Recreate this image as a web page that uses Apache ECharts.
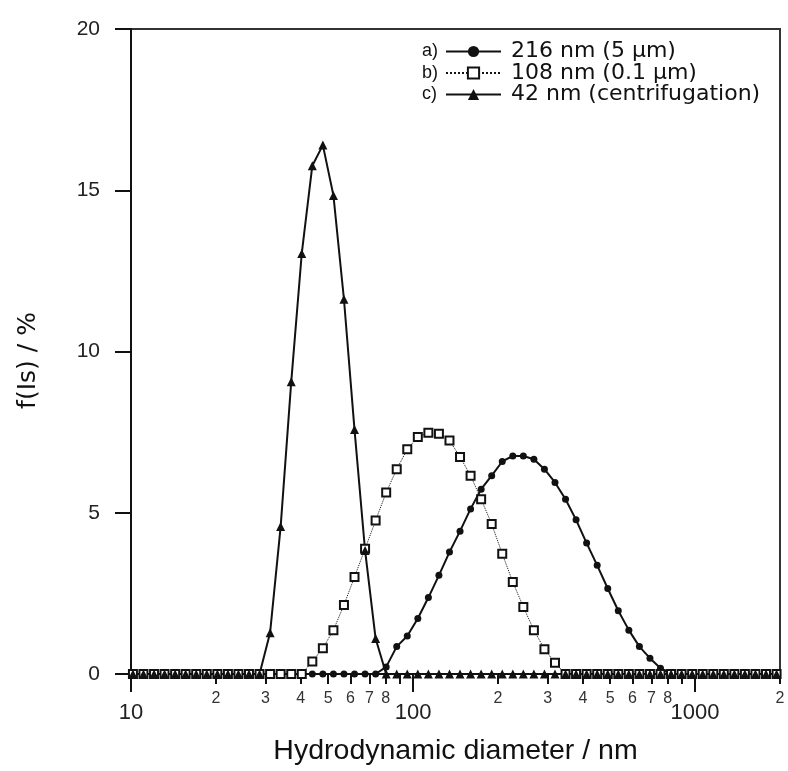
<!DOCTYPE html>
<html>
<head>
<meta charset="utf-8">
<script src="https://cdn.jsdelivr.net/npm/echarts@6/dist/echarts.min.js"></script>
<style>
  html, body { margin: 0; padding: 0; background: #fff; }
  #main { width: 788px; height: 771px; }
</style>
</head>
<body>
<div id="main"></div>
<script>
// hydrodynamic diameter of each size class (nm)
var sizes = [10.16, 11.07, 12.07, 13.15, 14.34, 15.62, 17.03, 18.56, 20.24, 22.06, 24.04, 26.20,
  28.56, 31.13, 33.93, 36.99, 40.31, 43.94, 47.89, 52.20, 56.89, 62.01, 67.59, 73.67, 80.30,
  87.52, 95.39, 103.97, 113.33, 123.52, 134.64, 146.75, 159.95, 174.34, 190.02, 207.11, 225.75,
  246.04, 268.19, 292.31, 318.61, 347.27, 378.44, 412.48, 449.67, 490.11, 534.19, 582.25, 634.62,
  691.70, 753.93, 821.75, 895.67, 976.32, 1064.1, 1159.8, 1264.1, 1377.8, 1501.7, 1636.8, 1784.1, 1944.6];

// a) 216 nm (5 µm filter)
var seriesA = [0, 0, 0, 0, 0, 0, 0, 0, 0, 0, 0, 0,
  0, 0, 0, 0, 0, 0, 0, 0, 0, 0, 0, 0,
  0.22, 0.85, 1.18, 1.72, 2.37, 3.06, 3.78, 4.43, 5.12, 5.73, 6.15, 6.59, 6.76, 6.76,
  6.66, 6.35, 5.94, 5.42, 4.78, 4.06, 3.37, 2.65, 1.96, 1.36, 0.85, 0.49, 0.18,
  0, 0, 0, 0, 0, 0, 0, 0, 0, 0, 0];
// b) 108 nm (0.1 µm filter)
var seriesB = [0, 0, 0, 0, 0, 0, 0, 0, 0, 0, 0, 0,
  0, 0, 0, 0, 0,
  0.39, 0.80, 1.36, 2.14, 3.01, 3.88, 4.76, 5.63, 6.35, 6.97, 7.35, 7.48, 7.45, 7.24,
  6.73, 6.15, 5.42, 4.65, 3.73, 2.85, 2.08, 1.36, 0.77, 0.35,
  0, 0, 0, 0, 0, 0, 0, 0, 0, 0, 0, 0, 0, 0, 0, 0, 0, 0, 0, 0, 0];
// c) 42 nm (centrifugation)
var seriesC = [0, 0, 0, 0, 0, 0, 0, 0, 0, 0, 0, 0,
  0, 1.28, 4.57, 9.06, 13.04, 15.76, 16.40, 14.84, 11.62, 7.58, 3.83, 1.10, 0,
  0, 0, 0, 0, 0, 0, 0, 0, 0, 0, 0, 0, 0, 0, 0, 0, 0, 0, 0, 0, 0, 0, 0, 0,
  0, 0, 0, 0, 0, 0, 0, 0, 0, 0, 0, 0, 0];

var seriesNames = ['216 nm (5 µm)', '108 nm (0.1 µm)', '42 nm (centrifugation)'];
var seriesTags = ['a)', 'b)', 'c)'];

var majorTicks = [10, 100, 1000];
var minorTicks = [20, 30, 40, 50, 60, 70, 80, 90, 200, 300, 400, 500, 600, 700, 800, 900, 2000];
var minorLabels = [20, 30, 40, 50, 60, 70, 80, 200, 300, 400, 500, 600, 700, 800, 2000];

function pairs(vals) {
  return sizes.map(function (x, i) { return [x, vals[i]]; });
}

var chart = echarts.init(document.getElementById('main'), null, { renderer: 'canvas' });
var font = 'Liberation Sans, Arial, sans-serif';
var wide = 'DejaVu Sans, sans-serif';
var ink = '#111';

var option = {
  animation: false,
  backgroundColor: '#fff',
  textStyle: { fontFamily: font, color: ink },
  grid: {
    left: 131, right: 8, top: 29, bottom: 93.5,
    show: true, borderColor: '#333', borderWidth: 2, backgroundColor: 'transparent'
  },
  legend: {
    orient: 'vertical',
    left: 445, top: 40.5, padding: 0,
    itemWidth: 55, itemHeight: 14, itemGap: -0.5,
    data: seriesNames,
    textStyle: { fontFamily: wide, fontSize: 22, color: ink, padding: [0, 0, 0, 5] }
  },
  graphic: seriesTags.map(function (t, i) {
    return {
      type: 'text', left: 422, top: 42.5 + i * 21.2,
      style: { text: t, font: '18px ' + font, fill: ink }
    };
  }),
  xAxis: [{
    type: 'log', logBase: 10, min: 10, max: 2000,
    name: 'Hydrodynamic diameter / nm',
    nameLocation: 'middle', nameGap: 63,
    nameTextStyle: { fontSize: 28.5, color: ink, fontFamily: font },
    axisLine: { lineStyle: { color: ink, width: 2 } },
    axisTick: { show: true, customValues: majorTicks, length: 18, lineStyle: { color: ink, width: 2 } },
    axisLabel: {
      customValues: majorTicks, margin: 28, fontSize: 22, color: '#222',
      formatter: function (v) { return String(Math.round(v)); }
    },
    splitLine: { show: false },
    minorTick: { show: false }
  }, {
    type: 'log', logBase: 10, min: 10, max: 2000,
    position: 'bottom', offset: 0,
    axisLine: { show: false },
    axisTick: { show: true, customValues: minorTicks, length: 10, lineStyle: { color: ink, width: 2 } },
    axisLabel: {
      customValues: minorLabels, margin: 17, fontSize: 16, color: '#333',
      formatter: function (v) { return String(Math.round(v / Math.pow(10, Math.floor(Math.log10(v) + 1e-9)))); }
    },
    splitLine: { show: false }
  }],
  yAxis: {
    type: 'value', min: 0, max: 20, interval: 5,
    name: 'f(Is) / %',
    nameLocation: 'middle', nameGap: 90, nameRotate: 90,
    nameTextStyle: { fontSize: 25, color: ink, fontFamily: wide, padding: [0, 18, 0, 0] },
    axisLine: { show: true, lineStyle: { color: ink, width: 2 } },
    axisTick: { show: true, length: 16, lineStyle: { color: ink, width: 2 } },
    axisLabel: { margin: 31, fontSize: 21, color: '#222' },
    splitLine: { show: false }
  },
  series: [{
    name: seriesNames[0], type: 'line', data: pairs(seriesA),
    symbol: 'circle', symbolSize: 7, showAllSymbol: true,
    itemStyle: { color: ink },
    lineStyle: { color: ink, width: 2 }
  }, {
    name: seriesNames[1], type: 'line', data: pairs(seriesB),
    symbol: 'emptyRect', symbolSize: 8, showAllSymbol: true,
    itemStyle: { color: ink, borderWidth: 1.3 },
    lineStyle: { color: ink, width: 1, type: 'dotted' }
  }, {
    name: seriesNames[2], type: 'line', data: pairs(seriesC),
    symbol: 'triangle', symbolSize: 9, showAllSymbol: true,
    itemStyle: { color: ink },
    lineStyle: { color: ink, width: 2 }
  }]
};

chart.setOption(option);
</script>
</body>
</html>
